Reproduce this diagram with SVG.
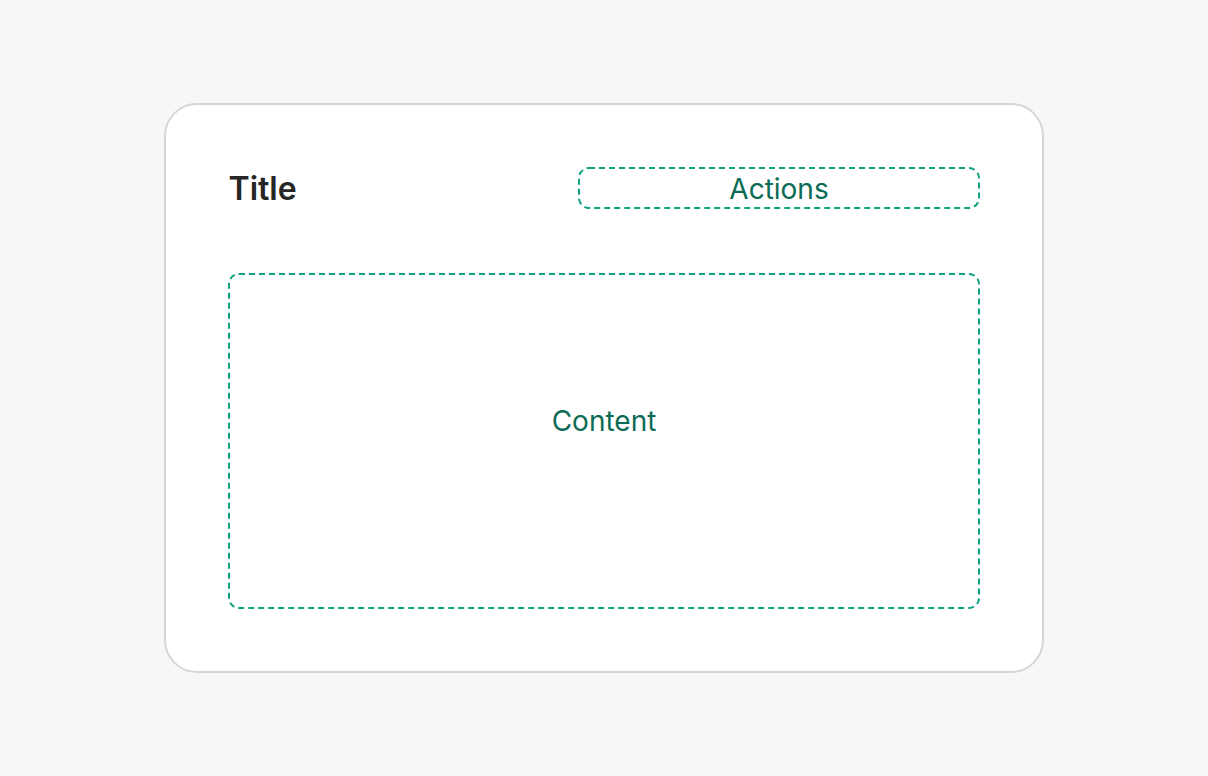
<svg xmlns="http://www.w3.org/2000/svg" width="1208" height="776" viewBox="0 0 1208 776">
<style>
.slot{fill:none;stroke:#12a083;stroke-width:2;stroke-dasharray:6 4}
.slotlabel{font-family:Inter,"Noto Sans",sans-serif;font-size:28px;fill:#0b6b55;text-anchor:middle}
</style>
<rect width="1208" height="776" fill="#f6f7f7"/>
<g id="card">
<rect x="165" y="104" width="878" height="568" rx="32" fill="#ffffff" stroke="#d6d6d6" stroke-width="2"/>
</g>
<g id="title">
<text x="228.5" y="200" font-family="Inter,'Noto Sans',sans-serif" font-size="32" font-weight="600" fill="#262626">Title</text>
</g>
<g id="actions">
<rect class="slot" x="579" y="168" width="400" height="40" rx="10"/>
<text class="slotlabel" x="779" y="199">Actions</text>
</g>
<g id="content">
<rect class="slot" x="229" y="274" width="750" height="334" rx="10"/>
<text class="slotlabel" x="604" y="431" font-size="28.5">Content</text>
</g>
<g id="connectors"/>
</svg>
